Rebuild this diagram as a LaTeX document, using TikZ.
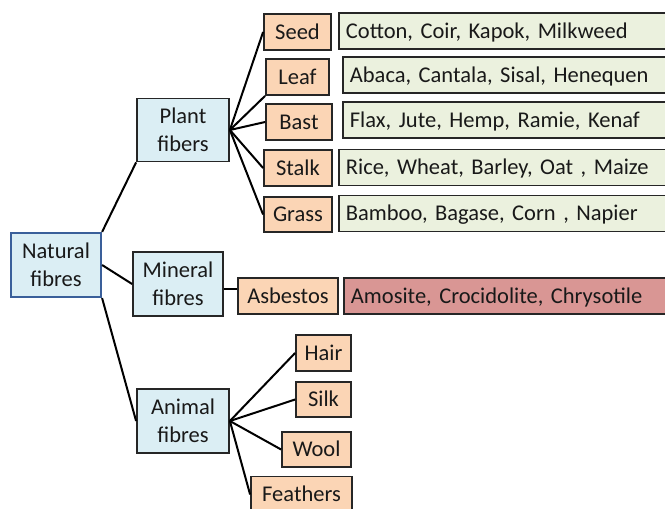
\documentclass[tikz,border=0pt]{standalone}
\usepackage{fontspec}
\setmainfont{Carlito}
\definecolor{paleblue}{HTML}{DBEEF4}
\definecolor{rootblue}{HTML}{3A5F9A}
\definecolor{peach}{HTML}{FBD5B5}
\definecolor{palegreen}{HTML}{EBF1DE}
\definecolor{rose}{HTML}{D99694}
\begin{document}
\begin{tikzpicture}[x=1pt, y=-1pt,
  box/.style = {draw=black!85, line width=1.8pt, minimum height=36pt, inner sep=0pt,
                text=black!90, font=\fontsize{22.5}{28}\selectfont},
  group/.style = {box, fill=paleblue, minimum width=92pt, minimum height=63pt, align=center},
  root/.style = {group, draw=rootblue, line width=2.2pt},
  kind/.style = {box, fill=peach, text height=17pt, text depth=3pt},
  list/.style = {box, fill=palegreen, anchor=west, inner xsep=7pt, text width=326pt,
                 align=left, text height=17pt, text depth=3pt},
  link/.style = {line width=2pt},
  ]
  \useasboundingbox (0,0) rectangle (665,509);
  \clip (0,0) rectangle (665,509);

  \node[root, minimum width=90pt, minimum height=64pt] (natural) at (56,265) {Natural\\fibres};
  \node[group] (plant) at (183,130) {Plant\\fibers};
  \node[group, minimum width=90pt, minimum height=64pt] (mineral) at (178,284) {Mineral\\fibres};
  \node[group, minimum height=64pt] (animal) at (183,421) {Animal\\fibres};

  \node[kind, minimum width=67pt] (seed) at (297.5,32) {Seed};
  \node[kind, minimum width=63pt] (leaf) at (297.5,77) {Leaf};
  \node[kind, minimum width=66pt] (bast) at (299,122) {Bast};
  \node[kind, minimum width=68pt] (stalk) at (298,168) {Stalk};
  \node[kind, minimum width=68pt, minimum height=35pt] (grass) at (298,214.5) {Grass};

  \node[list] (seedlist) at (338,31) {Cotton, Coir, Kapok, Milkweed};
  \node[list] (leaflist) at (342,75) {Abaca, Cantala, Sisal, Henequen};
  \node[list] (bastlist) at (342,120) {Flax, Jute, Hemp, Ramie, Kenaf};
  \node[list] (stalklist) at (338,167.5) {Rice, Wheat, Barley, Oat , Maize};
  \node[list] (grasslist) at (338,213.5) {Bamboo, Bagase, Corn , Napier};

  \node[kind, minimum width=100pt] (asbestos) at (288,296) {Asbestos};
  \node[list, fill=rose] (asbestoslist) at (343,296) {Amosite, Crocidolite, Chrysotile};

  \node[kind, minimum width=55pt] (hair) at (323.5,353) {Hair};
  \node[kind, minimum width=55pt, minimum height=35pt] (silk) at (323.5,399.5) {Silk};
  \node[kind, minimum width=69pt, minimum height=35pt] (wool) at (316.5,449.5) {Wool};
  \node[kind, minimum width=101pt] (feathers) at (301.5,494.5) {Feathers};

  \draw[link] (natural.north east) -- (plant.south west);
  \draw[link] (natural.east) -- (mineral.west);
  \draw[link] (natural.south east) -- (animal.west);

  \foreach \k/\a in {seed/west, leaf/south west, bast/west, stalk/west, grass/west}
    \draw[link] (plant.east) -- (\k.\a);

  \draw[link] ([yshift=-5pt]mineral.east) -- ([yshift=7pt]asbestos.west);

  \foreach \k in {hair, silk, wool, feathers}
    \draw[link] (animal.east) -- (\k.west);
\end{tikzpicture}
\end{document}
